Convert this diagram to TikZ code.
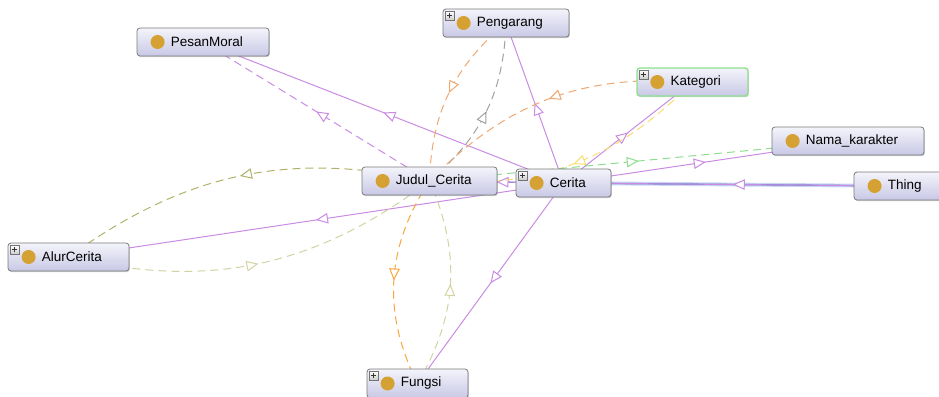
\documentclass[tikz,border=0pt]{standalone}
\usepackage{fontspec}
\setmainfont{Liberation Sans}
\usetikzlibrary{arrows.meta,decorations.markings,backgrounds,shadows}

\definecolor{subcls}{HTML}{C98BE3}
\definecolor{nodeborder}{HTML}{7A7A7A}
\definecolor{nodetop}{HTML}{F4F4FB}
\definecolor{nodebot}{HTML}{C8C8E6}
\definecolor{gold}{HTML}{D4A132}
\definecolor{selgreen}{HTML}{8EE08E}
\definecolor{propOrange}{HTML}{EFA772}
\definecolor{propOrangeB}{HTML}{FAA53C}
\definecolor{propGray}{HTML}{A0A0A0}
\definecolor{propOlive}{HTML}{B0B168}
\definecolor{propKhaki}{HTML}{D3D3A2}
\definecolor{propYellow}{HTML}{F7DE6E}
\definecolor{propGreen}{HTML}{8EDC8E}
\definecolor{linkblue}{HTML}{6F86CF}
\definecolor{linkhalo}{HTML}{C9D6F2}

\tikzset{
  cls/.style={draw=nodeborder, line width=0.8pt, rounded corners=3pt,
    top color=nodetop, bottom color=nodebot, inner sep=0pt,
    drop shadow={shadow xshift=0.8pt, shadow yshift=-1.2pt, fill=black!40, opacity=0.45}},
  selected/.style={draw=selgreen, line width=1.4pt},
  dot/.style={circle, fill=gold, minimum size=14pt, inner sep=0pt},
  lbl/.style={anchor=west, inner sep=0pt, text=black,
    font=\fontsize{13.5pt}{16pt}\selectfont},
  plusbox/.style={draw=black!55, line width=0.5pt, top color=white, bottom color=black!20,
    minimum size=9pt, inner sep=0pt,
    path picture={\draw[line width=0.8pt, black!80]
      ([xshift=-2.6pt]path picture bounding box.center) -- ([xshift=2.6pt]path picture bounding box.center)
      ([yshift=-2.6pt]path picture bounding box.center) -- ([yshift=2.6pt]path picture bounding box.center);}},
  midarrow/.style={postaction={decorate}, decoration={markings,
    mark=at position 0.5 with {\arrow[solid]{Triangle[length=12pt, width=10.5pt, fill=white]}}}},
  subedge/.style={draw=subcls, line width=1pt, midarrow},
  propedge/.style={line width=1pt, dash pattern=on 8pt off 5pt, midarrow},
  bluelink/.style={draw=linkblue, line width=1.4pt},
  bluehalo/.style={draw=linkhalo, line width=3.8pt},
}

% an OWL class box: [extra style] name, x1, y1, x2, y2, label
\newcommand\owlnode[7][]{%
  \node[cls, #1, minimum width={(#5-#3)*1pt}, minimum height={(#6-#4)*1pt}]
    (#2) at ({(#3+#5)/2},{(#4+#6)/2}) {};
  \node[dot] (#2-dot) at ([xshift=21pt]#2.west) {};
  \node[lbl] (#2-txt) at ([xshift=34pt]#2.west) {#7};
}
% expand marker in the top left corner of a class box
\newcommand\owlplus[1]{%
  \node[plusbox] (#1-plus) at ([xshift=7pt,yshift=-7pt]#1.north west) {};
}

\begin{document}
\begin{tikzpicture}[x=1pt, y=-1pt]
\useasboundingbox (0,0) rectangle (939,396);

% class boxes
\owlnode{PesanMoral}{137}{28}{269}{56}{PesanMoral}
\owlnode{Pengarang}{443}{9}{569}{37}{Pengarang}
\owlplus{Pengarang}
\owlnode[selected]{Kategori}{637}{68}{748}{96}{Kategori}
\owlplus{Kategori}
\owlnode{NamaKarakter}{772}{127}{924}{155}{Nama\_karakter}
\owlnode{Thing}{854}{172}{950}{200}{Thing}
\owlnode{JudulCerita}{362}{167}{497}{195}{Judul\_Cerita}
\owlnode{Cerita}{516}{169}{611}{197}{Cerita}
\owlplus{Cerita}
\owlnode{AlurCerita}{8}{243}{129}{271}{AlurCerita}
\owlplus{AlurCerita}
\owlnode{Fungsi}{367}{369}{468}{398}{Fungsi}
\owlplus{Fungsi}

% edges run centre to centre underneath the opaque class boxes,
% with the arrowhead half way along
\begin{scope}[on background layer]
  % links to the root and between the two main classes
  \draw[bluehalo] (Thing.center) -- (Cerita.center);
  \draw[bluelink] (Thing.center) -- (Cerita.center);
  \draw[bluelink] (Cerita.center) -- (JudulCerita.center);

  % subclass edges
  \draw[subedge] (Thing.center) -- (Cerita.center);
  \draw[subedge] (Cerita.center) -- (JudulCerita.center);
  \draw[subedge] (Cerita.center) -- (PesanMoral.center);
  \draw[subedge] (Cerita.center) -- (Pengarang.center);
  \draw[subedge] (Cerita.center) -- (Kategori.center);
  \draw[subedge] (Cerita.center) -- (NamaKarakter.center);
  \draw[subedge] (Cerita.center) -- (AlurCerita.center);
  \draw[subedge] (Cerita.center) -- (Fungsi.center);

  % object property edges
  \draw[propedge, draw=subcls] (JudulCerita.center) -- (PesanMoral.center);
  \draw[propedge, draw=propOrange] (Pengarang.center) to[bend right=24] (JudulCerita.center);
  \draw[propedge, draw=propGray] (JudulCerita.center) to[bend right=24] (Pengarang.center);
  \draw[propedge, draw=propOrange] (Kategori.center) to[bend right=25] (JudulCerita.center);
  \draw[propedge, draw=propYellow] (Kategori.center) to[bend left=25] (JudulCerita.center);
  \draw[propedge, draw=propGreen] (JudulCerita.center) -- (NamaKarakter.center);
  \draw[propedge, draw=propOlive] (JudulCerita.center) to[bend right=24] (AlurCerita.center);
  \draw[propedge, draw=propKhaki] (AlurCerita.center) to[bend right=25] (JudulCerita.center);
  \draw[propedge, draw=propOrangeB] (JudulCerita.center) to[bend right=30] (Fungsi.center);
  \draw[propedge, draw=propKhaki] (Fungsi.center) to[bend right=27] (JudulCerita.center);
\end{scope}
\end{tikzpicture}
\end{document}
